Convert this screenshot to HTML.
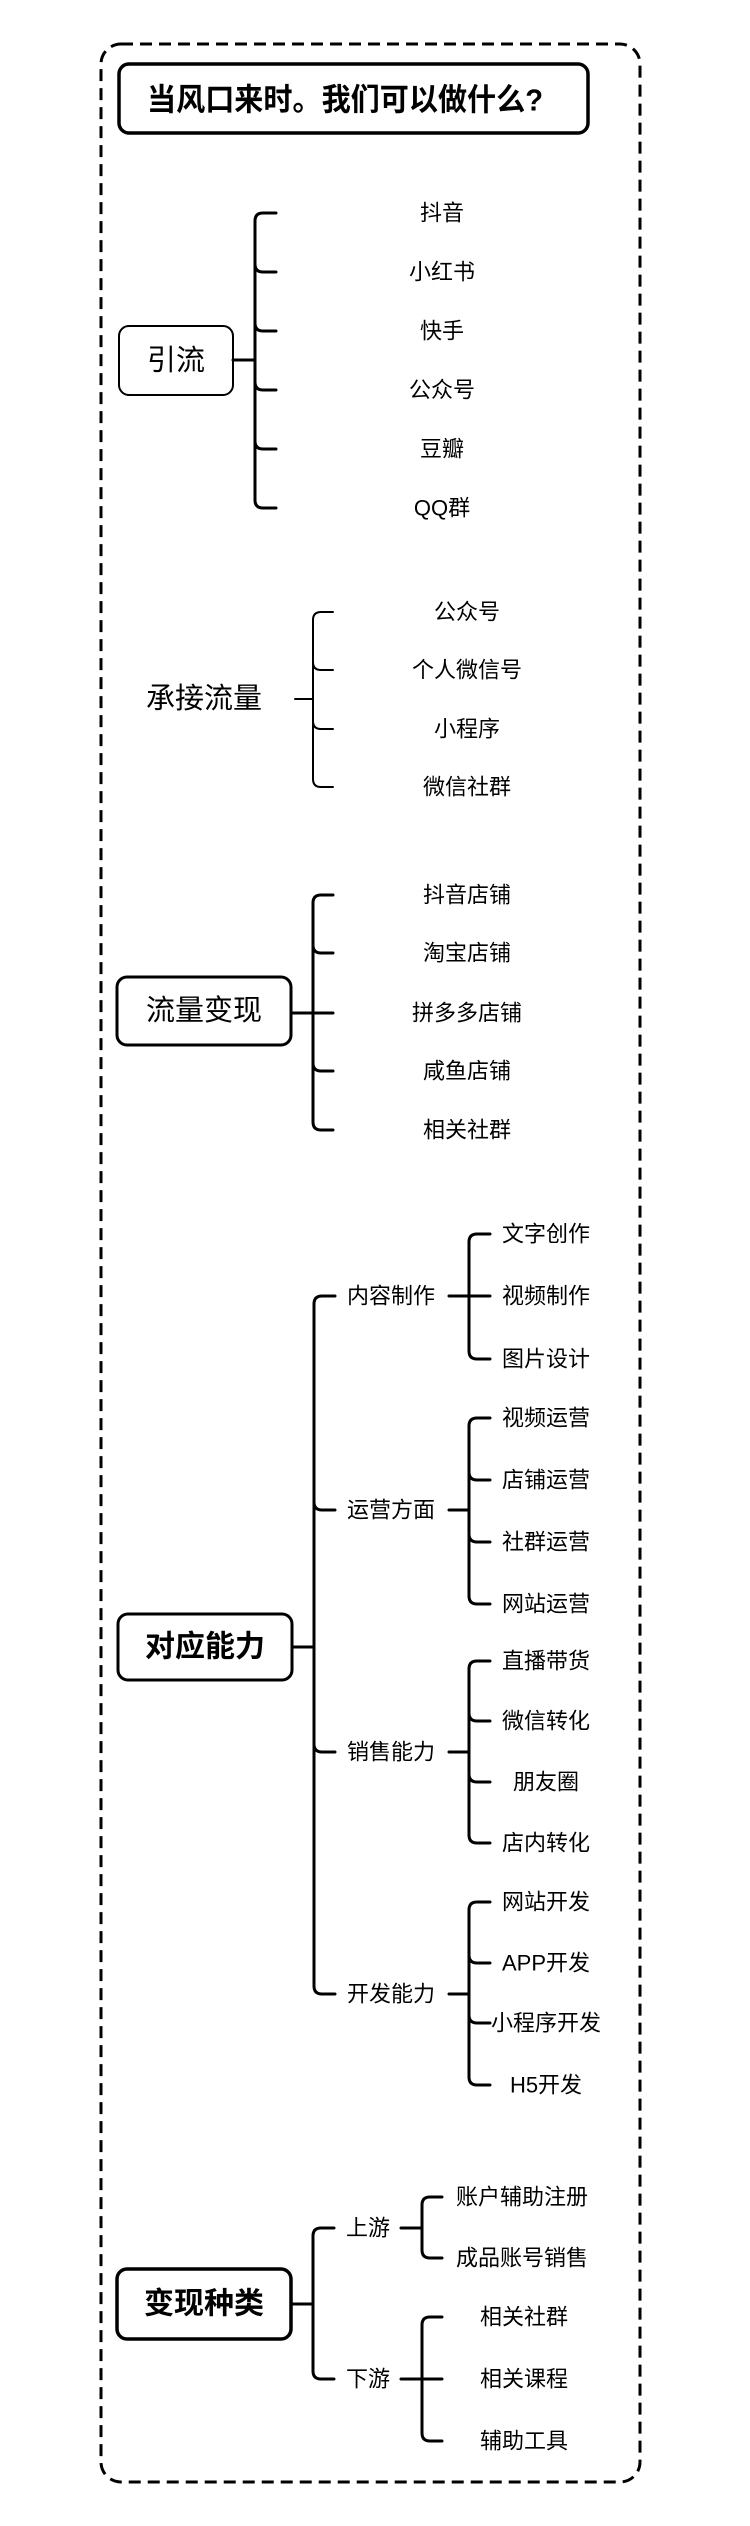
<!DOCTYPE html>
<html><head><meta charset="utf-8"><style>
html,body{margin:0;padding:0;background:#fff;}
svg{display:block;}
text{font-family:"Liberation Sans","Noto Sans CJK SC",sans-serif;fill:#000;}
</style></head><body>
<svg width="750" height="2526" viewBox="0 0 750 2526" xmlns="http://www.w3.org/2000/svg">
<rect x="101" y="44" width="539" height="2438" rx="20" fill="none" stroke="#000" stroke-width="3" stroke-dasharray="12,7"/>
<rect x="119" y="64" width="469" height="69" rx="10" fill="none" stroke="#000" stroke-width="3.5"/>
<text x="345" y="100" font-size="31" font-weight="bold" text-anchor="middle" dominant-baseline="central" textLength="396" lengthAdjust="spacingAndGlyphs">当风口来时。我们可以做什么?</text>

<g fill="none" stroke="#000" stroke-width="3" stroke-linecap="round">
<!-- 引流 -->
<rect x="119" y="326" width="114" height="69" rx="10" stroke-width="2"/>
<path d="M233 360H255M276 213H263Q255 213 255 221V500Q255 508 263 508H276M255 264Q255 272 263 272H276M255 323Q255 331 263 331H276M255 382Q255 390 263 390H276M255 441Q255 449 263 449H276"/>
<!-- 承接流量 -->
<path stroke-width="2" d="M295 699H313M333 612H321Q313 612 313 620V779Q313 787 321 787H333M313 662Q313 670 321 670H333M313 721Q313 729 321 729H333"/>
<!-- 流量变现 -->
<rect x="117" y="977" width="174" height="68" rx="10"/>
<path d="M291 1013H333M333 895H321Q313 895 313 903V1122Q313 1130 321 1130H333M313 945Q313 953 321 953H333M313 1063Q313 1071 321 1071H333"/>
<!-- 对应能力 -->
<rect x="118" y="1614" width="174" height="66" rx="10"/>
<path d="M292 1647H314M335 1296H322Q314 1296 314 1304V1986Q314 1994 322 1994H335M314 1502Q314 1510 322 1510H335M314 1744Q314 1752 322 1752H335"/>
<path d="M449 1296H490M490 1234H477Q469 1234 469 1242V1351Q469 1359 477 1359H490"/>
<path d="M449 1510H469M490 1418H477Q469 1418 469 1426V1596Q469 1604 477 1604H490M469 1472Q469 1480 477 1480H490M469 1534Q469 1542 477 1542H490"/>
<path d="M449 1752H469M490 1661H477Q469 1661 469 1669V1835Q469 1843 477 1843H490M469 1713Q469 1721 477 1721H490M469 1774Q469 1782 477 1782H490"/>
<path d="M449 1994H469M490 1902H477Q469 1902 469 1910V2077Q469 2085 477 2085H490M469 1955Q469 1963 477 1963H490M469 2015Q469 2023 477 2023H490"/>
<!-- 变现种类 -->
<rect x="117" y="2269" width="174" height="70" rx="10" stroke-width="3.5"/>
<path d="M291 2304H313M334 2228H321Q313 2228 313 2236V2371Q313 2379 321 2379H334"/>
<path d="M401 2228H422M442 2197H430Q422 2197 422 2205V2250Q422 2258 430 2258H442"/>
<path d="M401 2379H442M442 2317H430Q422 2317 422 2325V2433Q422 2441 430 2441H442"/>
</g>

<g font-size="22" text-anchor="middle" dominant-baseline="central">
<text x="176" y="361" font-size="29">引流</text>
<text x="442" y="213">抖音</text><text x="442" y="272">小红书</text><text x="442" y="331">快手</text>
<text x="442" y="390">公众号</text><text x="442" y="449">豆瓣</text><text x="442" y="508">QQ群</text>

<text x="204" y="699" font-size="29">承接流量</text>
<text x="467" y="612">公众号</text><text x="467" y="670">个人微信号</text><text x="467" y="729">小程序</text><text x="467" y="787">微信社群</text>

<text x="204" y="1011" font-size="29">流量变现</text>
<text x="467" y="895">抖音店铺</text><text x="467" y="953">淘宝店铺</text><text x="467" y="1013">拼多多店铺</text><text x="467" y="1071">咸鱼店铺</text><text x="467" y="1130">相关社群</text>

<text x="205" y="1647" font-size="30" font-weight="bold">对应能力</text>
<text x="391" y="1296">内容制作</text><text x="391" y="1510">运营方面</text><text x="391" y="1752">销售能力</text><text x="391" y="1994">开发能力</text>
<text x="546" y="1234">文字创作</text><text x="546" y="1296">视频制作</text><text x="546" y="1359">图片设计</text>
<text x="546" y="1418">视频运营</text><text x="546" y="1480">店铺运营</text><text x="546" y="1542">社群运营</text><text x="546" y="1604">网站运营</text>
<text x="546" y="1661">直播带货</text><text x="546" y="1721">微信转化</text><text x="546" y="1782">朋友圈</text><text x="546" y="1843">店内转化</text>
<text x="546" y="1902">网站开发</text><text x="546" y="1963">APP开发</text><text x="546" y="2023">小程序开发</text><text x="546" y="2085">H5开发</text>

<text x="204" y="2304" font-size="30" font-weight="bold">变现种类</text>
<text x="368" y="2228">上游</text><text x="368" y="2379">下游</text>
<text x="522" y="2197">账户辅助注册</text><text x="522" y="2258">成品账号销售</text>
<text x="524" y="2317">相关社群</text><text x="524" y="2379">相关课程</text><text x="524" y="2441">辅助工具</text>
</g>
</svg>
</body></html>
